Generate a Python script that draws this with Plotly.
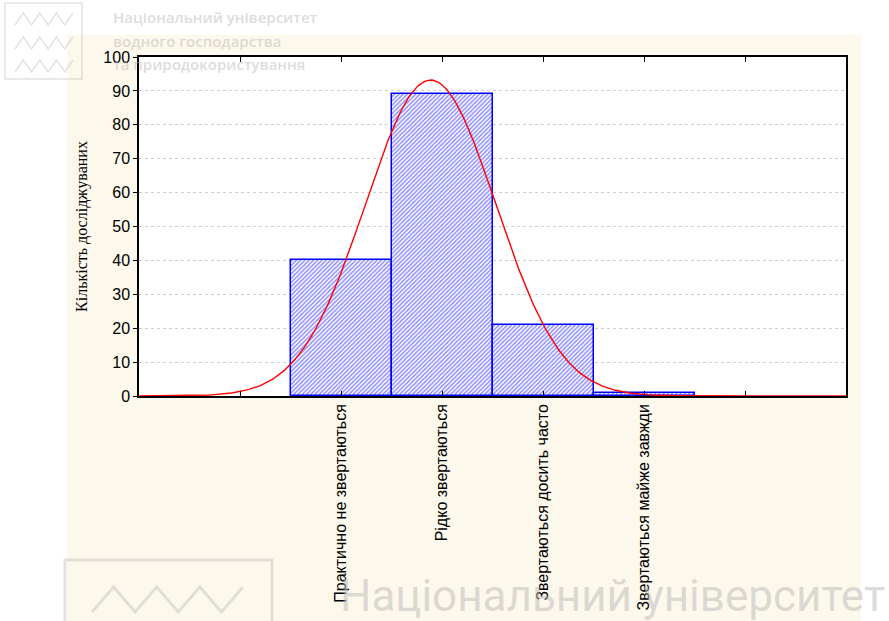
import numpy as np
import plotly.graph_objects as go

# Response categories and the number of respondents in each
categories = [
    "Практично не звертаються",
    "Рідко звертаються",
    "Звертаються досить часто",
    "Звертаються майже завжди",
]
counts = [40, 89, 21, 1]
positions = [2, 3, 4, 5]          # category slots on the x axis
tick_positions = [1, 2, 3, 4, 5, 6]
y_ticks = [0, 10, 20, 30, 40, 50, 60, 70, 80, 90, 100]

# Fitted normal curve (expected counts for unit-width classes)
n_total = sum(counts)
mean = sum(p * c for p, c in zip(positions, counts)) / n_total
sd = np.sqrt(sum(c * (p - mean) ** 2 for p, c in zip(positions, counts)) / n_total)
xs = np.linspace(0, 7, 400)
ys = n_total / (sd * np.sqrt(2 * np.pi)) * np.exp(-0.5 * ((xs - mean) / sd) ** 2)

W, H = 889, 621
L, R, T, B = 139, 846, 57, 396


def px(x):
    return (x - L) / (R - L)


def py(y):
    return (B - y) / (B - T)


fig = go.Figure()
fig.add_trace(go.Bar(
    x=positions, y=counts, width=1,
    marker=dict(
        color="white",
        line=dict(color="#0000ff", width=1.5),
        pattern=dict(shape="/", fgcolor="#1a1aff", bgcolor="white",
                     size=3, solidity=0.5),
    ),
    hoverinfo="skip",
))
fig.add_trace(go.Scatter(
    x=xs, y=ys, mode="lines",
    line=dict(color="#ff0000", width=1.4),
    hoverinfo="skip",
))

shapes = [
    # cream page panel and the white plot area on top of it
    dict(type="rect", xref="paper", yref="paper", layer="below",
         x0=px(67), x1=px(861), y0=py(35), y1=py(H),
         fillcolor="#fdf8ec", line=dict(width=0)),
    dict(type="rect", xref="paper", yref="paper", layer="below",
         x0=0, x1=1, y0=0, y1=1, fillcolor="white", line=dict(width=0)),
]

logo_grey = "rgba(190,190,190,0.45)"


def zigzag(x0, x1, ylow, yhigh, n):
    pts = []
    for i in range(2 * n + 2):
        x = x0 + (x1 - x0) * i / (2 * n + 1)
        y = ylow if i % 2 == 0 else yhigh
        pts.append(f"{px(x):.5f},{py(y):.5f}")
    return "M " + " L ".join(pts)


# top-left emblem
shapes.append(dict(type="rect", xref="paper", yref="paper", layer="above",
                   x0=px(5), x1=px(82), y0=py(3), y1=py(79),
                   line=dict(color=logo_grey, width=1.5)))
for yl in (25, 49, 72):
    shapes.append(dict(type="path", xref="paper", yref="paper", layer="above",
                       path=zigzag(15, 73, yl, yl - 12, 3),
                       line=dict(color=logo_grey, width=1.5)))
# bottom emblem
shapes.append(dict(type="path", xref="paper", yref="paper", layer="above",
                   path=f"M {px(65)},{py(H + 2)} L {px(65)},{py(560)} "
                        f"L {px(272)},{py(560)} L {px(272)},{py(H + 2)}",
                   line=dict(color=logo_grey, width=3)))
shapes.append(dict(type="path", xref="paper", yref="paper", layer="above",
                   path=zigzag(92, 243, 612, 587, 3),
                   line=dict(color=logo_grey, width=3)))

annotations = []
for text, yc in (("Національний університет", 17),
                 ("водного господарства", 41),
                 ("та природокористування", 64)):
    annotations.append(dict(
        xref="paper", yref="paper", x=px(111), y=py(yc),
        xanchor="left", yanchor="middle", showarrow=False, text=text,
        font=dict(family="Open Sans", size=15, color="rgba(185,185,185,0.5)",
                  weight=600),
    ))
annotations.append(dict(
    xref="paper", yref="paper", x=px(338), y=py(596),
    xanchor="left", yanchor="middle", showarrow=False,
    text="Національний університет",
    font=dict(family="Roboto", size=44, color="rgba(185,185,185,0.5)"),
))

fig.update_layout(
    width=W, height=H,
    margin=dict(l=L, r=W - R, t=T, b=H - B),
    paper_bgcolor="white",
    plot_bgcolor="white",
    showlegend=False,
    bargap=0,
    shapes=shapes,
    annotations=annotations,
    font=dict(family="Liberation Sans, Arial", color="black"),
    xaxis=dict(
        range=[0, 7],
        tickmode="array", tickvals=tick_positions,
        ticktext=[""] + categories + [""],
        tickangle=-90,
        ticks="inside", ticklen=5, tickcolor="black",
        mirror="ticks", showline=True, linecolor="black", linewidth=1.5,
        showgrid=False, zeroline=False,
        tickfont=dict(size=16),
    ),
    yaxis=dict(
        range=[0, 100],
        tickmode="array", tickvals=y_ticks,
        ticks="outside", ticklen=4, tickcolor="black",
        mirror=True, showline=True, linecolor="black", linewidth=1.5,
        showgrid=True, gridcolor="#cfcfcf", griddash="dot", gridwidth=1,
        zeroline=False,
        tickfont=dict(size=16),
        title=dict(text="Кількість досліджуваних", standoff=12,
                   font=dict(family="Liberation Serif, Times New Roman", size=16)),
    ),
)

fig.write_html("out.html")
